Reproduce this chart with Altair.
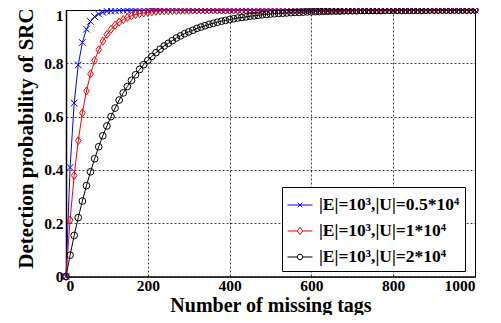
import altair as alt
import pandas as pd

x_vals = list(range(0, 1001, 10))

series_names = ["|E|=10³,|U|=0.5*10⁴", "|E|=10³,|U|=1*10⁴", "|E|=10³,|U|=2*10⁴"]
colors = ["#0000ff", "#ff0000", "#000000"]

blue = [
    0.0, 0.409, 0.651, 0.794, 0.878, 0.928, 0.957, 0.975, 0.985, 0.991,
    0.995, 0.997, 0.998, 0.999, 0.999, 1.0, 1.0, 1.0, 1.0, 1.0,
    1.0, 1.0, 1.0, 1.0, 1.0, 1.0, 1.0, 1.0, 1.0, 1.0,
    1.0, 1.0, 1.0, 1.0, 1.0, 1.0, 1.0, 1.0, 1.0, 1.0,
    1.0, 1.0, 1.0, 1.0, 1.0, 1.0, 1.0, 1.0, 1.0, 1.0,
    1.0, 1.0, 1.0, 1.0, 1.0, 1.0, 1.0, 1.0, 1.0, 1.0,
    1.0, 1.0, 1.0, 1.0, 1.0, 1.0, 1.0, 1.0, 1.0, 1.0,
    1.0, 1.0, 1.0, 1.0, 1.0, 1.0, 1.0, 1.0, 1.0, 1.0,
    1.0, 1.0, 1.0, 1.0, 1.0, 1.0, 1.0, 1.0, 1.0, 1.0,
    1.0, 1.0, 1.0, 1.0, 1.0, 1.0, 1.0, 1.0, 1.0, 1.0,
    1.0,
]

red = [
    0.0, 0.212, 0.379, 0.510, 0.614, 0.696, 0.760, 0.811, 0.851, 0.883,
    0.908, 0.927, 0.943, 0.955, 0.964, 0.972, 0.978, 0.983, 0.986, 0.989,
    0.991, 0.993, 0.995, 0.996, 0.997, 0.997, 0.998, 0.998, 0.999, 0.999,
    0.999, 1.0, 1.0, 1.0, 1.0, 1.0, 1.0, 1.0, 1.0, 1.0,
    1.0, 1.0, 1.0, 1.0, 1.0, 1.0, 1.0, 1.0, 1.0, 1.0,
    1.0, 1.0, 1.0, 1.0, 1.0, 1.0, 1.0, 1.0, 1.0, 1.0,
    1.0, 1.0, 1.0, 1.0, 1.0, 1.0, 1.0, 1.0, 1.0, 1.0,
    1.0, 1.0, 1.0, 1.0, 1.0, 1.0, 1.0, 1.0, 1.0, 1.0,
    1.0, 1.0, 1.0, 1.0, 1.0, 1.0, 1.0, 1.0, 1.0, 1.0,
    1.0, 1.0, 1.0, 1.0, 1.0, 1.0, 1.0, 1.0, 1.0, 1.0,
    1.0,
]

black = [
    0.0, 0.080, 0.154, 0.221, 0.283, 0.341, 0.393, 0.442, 0.487, 0.528,
    0.565, 0.600, 0.632, 0.662, 0.689, 0.713, 0.736, 0.757, 0.777, 0.795,
    0.811, 0.826, 0.840, 0.853, 0.865, 0.875, 0.885, 0.895, 0.903, 0.911,
    0.918, 0.924, 0.931, 0.936, 0.941, 0.946, 0.950, 0.954, 0.958, 0.961,
    0.964, 0.967, 0.970, 0.972, 0.974, 0.977, 0.978, 0.980, 0.982, 0.983,
    0.985, 0.986, 0.987, 0.988, 0.989, 0.990, 0.991, 0.991, 0.992, 0.993,
    0.993, 0.994, 0.994, 0.995, 0.995, 0.996, 0.996, 0.996, 0.997, 0.997,
    0.997, 0.997, 0.998, 0.998, 0.998, 0.998, 0.998, 0.998, 0.999, 0.999,
    0.999, 0.999, 0.999, 0.999, 0.999, 0.999, 0.999, 0.999, 0.999, 1.0,
    1.0, 1.0, 1.0, 1.0, 1.0, 1.0, 1.0, 1.0, 1.0, 1.0,
    1.0,
]

x_ticks = [0, 200, 400, 600, 800, 1000]
y_ticks = [0, 0.2, 0.4, 0.6, 0.8, 1]

rows = []
for name, vals in zip(series_names, [blue, red, black]):
    for xv, yv in zip(x_vals, vals):
        rows.append({"series": name, "x": xv, "y": yv})
df = pd.DataFrame(rows)

FONT = "Liberation Serif"

marker_paths = [
    "M-1,-1L1,1M-1,1L1,-1",
    "M0,-1.2L0.85,0L0,1.2L-0.85,0Z",
    "circle",
]
legend_paths = [
    "M-1,0L1,0M-0.18,-0.18L0.18,0.18M-0.18,0.18L0.18,-0.18",
    "M-1,0L-0.22,0M0.22,0L1,0M0,-0.3L0.22,0L0,0.3L-0.22,0Z",
    "M-1,0L-0.22,0M0.22,0L1,0M-0.22,0A0.22,0.22,0,1,1,0.22,0A0.22,0.22,0,1,1,-0.22,0",
]

x_enc = alt.X(
    "x:Q",
    scale=alt.Scale(domain=[0, 1000], nice=False),
    axis=alt.Axis(
        values=x_ticks, title="Number of missing tags", format="d",
        labelFont=FONT, labelFontWeight="bold", labelFontSize=15.5, labelColor="black",
        titleFont=FONT, titleFontWeight="bold", titleFontSize=20, titleColor="black",
        ticks=False, labelPadding=2,
        titleY=34.5, titleBaseline="alphabetic",
        domainColor="black", domainWidth=1,
        grid=True, gridColor="black", gridDash=[2, 2], gridOpacity=0.75, gridWidth=1,
    ),
)
y_enc = alt.Y(
    "y:Q",
    scale=alt.Scale(domain=[0, 1], nice=False),
    axis=alt.Axis(
        values=y_ticks, title="Detection probability of SRC", format="~g",
        labelFont=FONT, labelFontWeight="bold", labelFontSize=15.5, labelColor="black",
        titleFont=FONT, titleFontWeight="bold", titleFontSize=21, titleColor="black",
        ticks=False, labelPadding=3,
        titleX=-40, titleY=128, titleBaseline="middle",
        labelOffset={"condition": {"test": "datum.value == 1", "value": 5}, "value": 0},
        domainColor="black", domainWidth=1.5,
        grid=True, gridColor="black", gridDash=[2, 2], gridOpacity=0.75, gridWidth=1,
    ),
)

color_nolegend = alt.Color(
    "series:N", scale=alt.Scale(domain=series_names, range=colors), legend=None
)

base = alt.Chart(df)

lines = base.mark_line(strokeWidth=1).encode(x=x_enc, y=y_enc, color=color_nolegend)

points = base.mark_point(filled=False, size=45, strokeWidth=1, opacity=1).encode(
    x=x_enc,
    y=y_enc,
    color=color_nolegend,
    shape=alt.Shape(
        "series:N", scale=alt.Scale(domain=series_names, range=marker_paths), legend=None
    ),
)

legend = alt.Legend(
    title=None, orient="none", legendX=216, legendY=177,
    strokeColor="black", fillColor="white", padding=5,
    labelFont=FONT, labelFontWeight="bold", labelFontSize=17.5, labelColor="black",
    labelLimit=400, labelOffset=6, rowPadding=4,
    symbolSize=625, symbolStrokeWidth=1, symbolOpacity=1,
)

legend_layer = base.mark_point(filled=False, size=625, opacity=0).encode(
    x=x_enc,
    y=y_enc,
    color=alt.Color("series:N", scale=alt.Scale(domain=series_names, range=colors), legend=legend),
    shape=alt.Shape("series:N", scale=alt.Scale(domain=series_names, range=legend_paths), legend=legend),
)

chart = (
    alt.layer(lines, points, legend_layer)
    .resolve_scale(color="independent", shape="independent")
    .properties(
        width=409, height=266.5,
        autosize=alt.AutoSizeParams(type="none"),
        padding={"left": 58, "top": 2, "right": 18, "bottom": 38},
    )
    .configure_view(stroke="black", strokeWidth=1)
)

chart.save("out.html", embed_options={"renderer": "svg", "actions": False})
